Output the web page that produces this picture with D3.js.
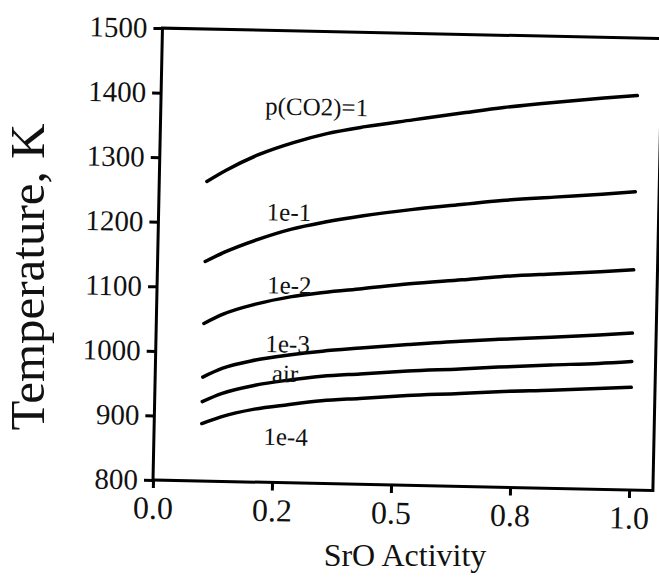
<!DOCTYPE html>
<html>
<head>
<meta charset="utf-8">
<script src="https://cdn.jsdelivr.net/npm/d3@7"></script>
<style>
  html, body { margin: 0; padding: 0; background: #fff; }
  svg { display: block; }
  text { font-family: "Liberation Serif", "Times New Roman", serif; fill: #111; }
</style>
</head>
<body>
<svg id="chart" width="659" height="577"></svg>
<script>
// SrO activity (x) shared by every curve
const activity = [0.10, 0.14, 0.21, 0.28, 0.35, 0.43, 0.53, 0.64, 0.72, 0.83, 0.93, 1.00];

// Decomposition temperature (K) for each CO2 partial pressure
const tempP1    = [1264, 1282, 1308, 1327, 1342, 1354, 1366, 1379, 1388, 1398, 1406, 1411];
const tempP1e1  = [1140, 1155, 1176, 1193, 1205, 1216, 1227, 1237, 1244, 1251, 1257, 1262];
const tempP1e2  = [1044, 1059, 1076, 1088, 1096, 1103, 1112, 1120, 1126, 1132, 1137, 1141];
const tempP1e3  = [961, 975, 989, 998, 1005, 1011, 1018, 1025, 1029, 1034, 1039, 1043];
const tempAir   = [923, 936, 950, 959, 966, 971, 977, 982, 986, 991, 995, 999];
const tempP1e4  = [889, 900, 913, 921, 928, 933, 939, 944, 948, 952, 956, 959];

const seriesNames = ["p(CO2)=1", "1e-1", "1e-2", "1e-3", "air", "1e-4"];
const seriesTemps = [tempP1, tempP1e1, tempP1e2, tempP1e3, tempAir, tempP1e4];

// Axis ticks
const xTickValues = [0, 0.25, 0.5, 0.75, 1.0];
const xTickLabels = ["0.0", "0.2", "0.5", "0.8", "1.0"];
const yTickValues = [800, 900, 1000, 1100, 1200, 1300, 1400, 1500];

// Curve label anchors (activity, temperature) for each series
const labelActivity = [0.219, 0.227, 0.231, 0.230, 0.245, 0.230];
const labelTemp     = [1370, 1206, 1093, 1002, 956, 858];

const serif = '"Liberation Serif", "Times New Roman", serif';
const svg = d3.select("#chart");
const plotW = 500, plotH = 452;
const marginLeft = 153, marginTop = 28;

const x = d3.scaleLinear().domain([0, 1.05]).range([0, plotW]);
const y = d3.scaleLinear().domain([800, 1500]).range([plotH, 0]);

// whole plot sits slightly tilted
const g = svg.append("g")
  .attr("transform", `rotate(1.2, ${marginLeft}, ${marginTop + plotH}) translate(${marginLeft}, ${marginTop})`);

// frame
g.append("rect")
  .attr("x", 0).attr("y", 0).attr("width", plotW).attr("height", plotH)
  .attr("fill", "none").attr("stroke", "#000").attr("stroke-width", 3);

// y axis
const yAxis = g.append("g")
  .call(d3.axisLeft(y).tickValues(yTickValues).tickFormat(d3.format("d"))
    .tickSize(9).tickSizeOuter(0).tickPadding(6))
  .attr("font-family", serif);
yAxis.select(".domain").remove();
yAxis.selectAll(".tick line").attr("stroke", "#000").attr("stroke-width", 3);
yAxis.selectAll(".tick text")
  .style("font-family", serif)
  .style("font-size", "29px").attr("fill", "#111");

// x axis
const xAxis = g.append("g")
  .attr("transform", `translate(0, ${plotH})`)
  .call(d3.axisBottom(x).tickValues(xTickValues)
    .tickFormat((d, i) => xTickLabels[i])
    .tickSize(8).tickSizeOuter(0).tickPadding(8))
  .attr("font-family", serif);
xAxis.select(".domain").remove();
xAxis.selectAll(".tick line").attr("stroke", "#000").attr("stroke-width", 3);
xAxis.selectAll(".tick text")
  .style("font-family", serif)
  .style("font-size", "32px").attr("fill", "#111");

// curves
const line = d3.line()
  .x((d, i) => x(activity[i]))
  .y(d => y(d))
  .curve(d3.curveMonotoneX);

g.selectAll("path.curve")
  .data(seriesTemps)
  .join("path")
  .attr("class", "curve")
  .attr("d", d => line(d))
  .attr("fill", "none")
  .attr("stroke", "#000")
  .attr("stroke-width", 3.5)
  .attr("stroke-linecap", "round");

// curve labels
g.selectAll("text.curve-label")
  .data(seriesNames)
  .join("text")
  .attr("class", "curve-label")
  .attr("x", (d, i) => x(labelActivity[i]))
  .attr("y", (d, i) => y(labelTemp[i]))
  .style("font-family", serif)
  .style("font-size", "25px")
  .text(d => d);

// axis titles
svg.append("text")
  .attr("transform", "translate(44, 277) rotate(-90)")
  .attr("text-anchor", "middle")
  .style("font-family", serif)
  .style("font-size", "49px")
  .text("Temperature, K");

svg.append("text")
  .attr("x", 405).attr("y", 566)
  .attr("text-anchor", "middle")
  .style("font-family", serif)
  .style("font-size", "32px")
  .text("SrO Activity");
</script>
</body>
</html>
